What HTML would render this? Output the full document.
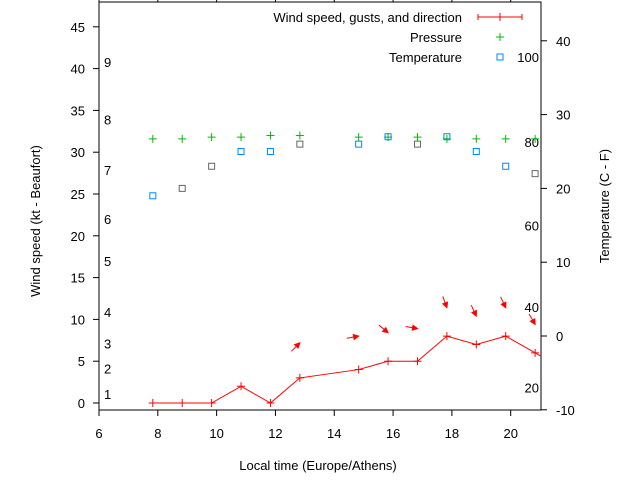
<!DOCTYPE html>
<html><head><meta charset="utf-8"><style>
body{margin:0;background:#fff}
svg{display:block;font-family:"Liberation Sans",sans-serif}
</style></head><body>
<svg id="c" width="640" height="480">
<rect width="640" height="480" fill="#fff"/>
<g id="g"></g>
</svg>
<script>
const times=[7.83,8.83,9.83,10.83,11.83,12.83,14.83,15.83,16.83,17.83,18.83,19.83,20.83];
const wind=[0,0,0,2,0,3,4,5,5,8,7,8,6];
const pressure=[31.6,31.6,31.8,31.8,32.0,32.0,31.8,31.8,31.8,31.6,31.6,31.6,31.6];
const temperature=[19,20,23,25,25,26,26,27,26,27,25,23,22];
const tempColor=["b","g","g","b","b","g","b","b","g","b","b","b","g"];
const arrowTimes=[12.83,14.83,15.83,16.83,17.83,18.83,19.83,20.83];
const gust=[7.2,8,8.4,8.9,11.4,10.4,11.4,9.4];
const windDir=[225,260,310,280,340,335,335,330];
const xTicks=[6,8,10,12,14,16,18,20];
const yTicks=[0,5,10,15,20,25,30,35,40,45];
const y2Ticks=[-10,0,10,20,30,40];
const beaufort=[[1,1.1],[2,4.1],[3,7.1],[4,10.9],[5,17],[6,22],[7,27.9],[8,33.9],[9,40.8]];
const fahr=[[100,37.8],[80,26.3],[60,15],[40,3.9],[20,-7]];
const L=99,R=541,T=2,B=410;
const X=t=>L+(t-6)*(R-L)/15.03;
const Y=v=>403-v*8.36;
const Y2=v=>336-v*7.38;
const g=document.getElementById('g');
const NS='http://www.w3.org/2000/svg';
function el(tag,a,txt){const e=document.createElementNS(NS,tag);for(const k in a)e.setAttribute(k,a[k]);if(txt!==undefined)e.textContent=txt;g.appendChild(e);return e;}
let e;
e=el('rect',{x:L,y:T,width:R-L,height:B-T,fill:'none',stroke:'#000','stroke-width':1});


xTicks.forEach(t=>{const x=X(t);
 el('line',{x1:x,x2:x,y1:B,y2:B+6,stroke:'#000'});
 el('line',{x1:x,x2:x,y1:T,y2:T-6,stroke:'#000'});
 e=el('text',{x:x,y:438,'font-size':13,'text-anchor':'middle'},t);
 
 });
yTicks.forEach(v=>{const y=Y(v);
 el('line',{x1:L-6,x2:L,y1:y,y2:y,stroke:'#000'});
 e=el('text',{x:L-14,y:y+5,'font-size':13,'text-anchor':'end'},v);
 
 });
y2Ticks.forEach(v=>{const y=Y2(v);
 el('line',{x1:R,x2:R+6,y1:y,y2:y,stroke:'#000'});
 e=el('text',{x:556,y:y+5,'font-size':13},v);
 
 });
beaufort.forEach(b=>{e=el('text',{x:104,y:Y(b[1])+5,'font-size':13},b[0]);
 
 });
fahr.forEach(f=>{e=el('text',{x:539,y:Y2(f[1])+5,'font-size':13,'text-anchor':'end'},f[0]);
 
 });
let pts=times.map((t,i)=>X(t)+','+Y(wind[i]));
const n=times.length;const slope=(wind[n-1]-wind[n-2])/(times[n-1]-times[n-2]);
pts.push(R+','+Y(wind[n-1]+slope*(15.03+6-times[n-1])));
e=el('polyline',{points:pts.join(' '),fill:'none',stroke:'#f00','stroke-width':1});


times.forEach((t,i)=>{const x=X(t),y=Y(wind[i]);
 e=el('path',{d:`M${x-4},${y}h8M${x},${y-4}v8`,stroke:'#f00'});
 
 });
times.forEach((t,i)=>{const x=X(t),y=Y(pressure[i]);
 e=el('path',{d:`M${x-4},${y}h8M${x},${y-4}v8`,stroke:'#0b0'});
 
 });
times.forEach((t,i)=>{const x=X(t),y=Y2(temperature[i]);
 e=el('rect',{x:x-3,y:y-3,width:6,height:6,fill:'none',stroke:tempColor[i]=='b'?'#08f':'#666'});
 
 });
arrowTimes.forEach((t,i)=>{const x=X(t),y=Y(gust[i]);const to=(windDir[i]+180)*Math.PI/180;
 const dx=Math.sin(to),dy=-Math.cos(to),Ln=12;
 const tx=x-dx*Ln,ty=y-dy*Ln;
 const px=-dy,py=dx;
 e=el('path',{d:`M${tx},${ty}L${x},${y}M${x},${y}L${x-dx*5+px*2.5},${y-dy*5+py*2.5}L${x-dx*5-px*2.5},${y-dy*5-py*2.5}Z`,stroke:'#f00',fill:'#f00'});
 
 });
const lg=[['Wind speed, gusts, and direction',17],['Pressure',37],['Temperature',57]];
lg.forEach(l=>{e=el('text',{x:462,y:l[1]+5,'font-size':13,'text-anchor':'end'},l[0]);
 
 });
e=el('path',{d:'M478,17h44M478,14v6M522,14v6M500,13v8',stroke:'#f00'});


e=el('path',{d:'M496,37h8M500,33v8',stroke:'#0b0'});


e=el('rect',{x:497,y:54,width:6,height:6,fill:'none',stroke:'#08f'});


e=el('text',{x:318,y:470,'font-size':13,'text-anchor':'middle'},'Local time (Europe/Athens)');


e=el('text',{x:0,y:0,'font-size':13,'text-anchor':'middle',transform:'translate(40,221) rotate(-90)'},'Wind speed (kt - Beaufort)');


e=el('text',{x:0,y:0,'font-size':13,'text-anchor':'middle',transform:'translate(609,206) rotate(-90)'},'Temperature (C - F)');


</script>
</body></html>
